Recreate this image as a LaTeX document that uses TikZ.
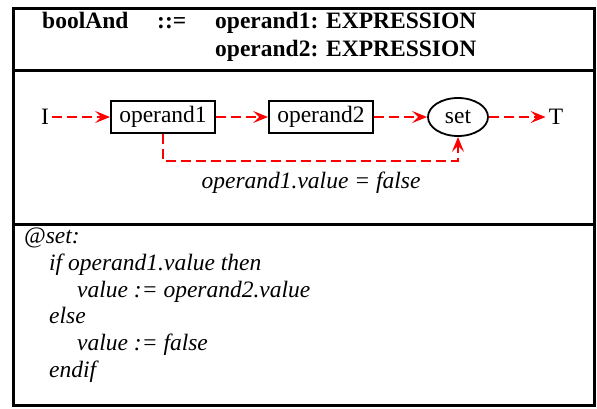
\documentclass[tikz,border=0pt]{standalone}
\usepackage{fontspec}
\setmainfont{Liberation Serif}
\usetikzlibrary{arrows.meta,shapes.geometric}
\begin{document}
\begin{tikzpicture}[x=1pt,y=-1pt,
  frame/.style={line width=3pt,black},
  txt/.style={font=\fontsize{23.5}{28}\selectfont,inner sep=0pt},
  endpt/.style={font=\fontsize{23.5}{28}\selectfont,inner sep=3pt},
  hdr/.style={font=\fontsize{23.5}{28}\selectfont\bfseries,inner sep=0pt,anchor=base west},
  code/.style={font=\fontsize{23.5}{28}\selectfont\itshape,inner sep=0pt,anchor=base west},
  boxnode/.style={draw,line width=1.8pt,minimum width=104pt,minimum height=32pt,inner sep=0pt,font=\fontsize{23.5}{28}\selectfont},
  ellnode/.style={draw,ellipse,line width=1.8pt,minimum width=60pt,minimum height=38pt,inner sep=0pt,font=\fontsize{23.5}{28}\selectfont},
  flow/.style={red,line width=2pt,dash pattern=on 10pt off 5pt,-{Stealth[length=15pt,width=12pt,inset=6pt]}}]
\useasboundingbox (0,0) rectangle (597,408);
\fill[white] (0,0) rectangle (597,408);
% frame
\draw[frame] (13,8) rectangle (594,405);
\draw[frame] (13,70) -- (594,70);
\draw[frame] (13,224) -- (594,224);
% header
\node[hdr] (h1) at (42,28) {boolAnd};
\node[hdr] (h2) at (157,28) {::=};
\node[hdr] (h3) at (215,28) {operand1: EXPRESSION};
\node[hdr] (h4) at (215,56) {operand2: EXPRESSION};
% diagram
\node[endpt] (I) at (45,117) {I};
\node[boxnode] (op1) at (163,117) {operand1};
\node[boxnode] (op2) at (321,117) {operand2};
\node[ellnode] (set) at (458,117) {set};
\node[endpt] (T) at (556,117) {T};
\coordinate (c1) at (163,161);
\coordinate (c2) at (458,161);
\draw[flow] (I) -- (op1);
\draw[flow] (op1) -- (op2);
\draw[flow] (op2) -- (set);
\draw[flow] (set) -- (T);
\draw[flow] (op1.south) -- (c1) -- (c2) -- (set.south);
\node[txt,font=\fontsize{23.5}{28}\selectfont\itshape] (lbl) at (311,183) {operand1.value = false};
% code
\node[code] (l1) at (24,243) {@set:};
\node[code] (l2) at (49,270) {if operand1.value then};
\node[code] (l3) at (77,297) {value := operand2.value};
\node[code] (l4) at (49,323) {else};
\node[code] (l5) at (77,350) {value := false};
\node[code] (l6) at (49,377) {endif};
\end{tikzpicture}
\end{document}
